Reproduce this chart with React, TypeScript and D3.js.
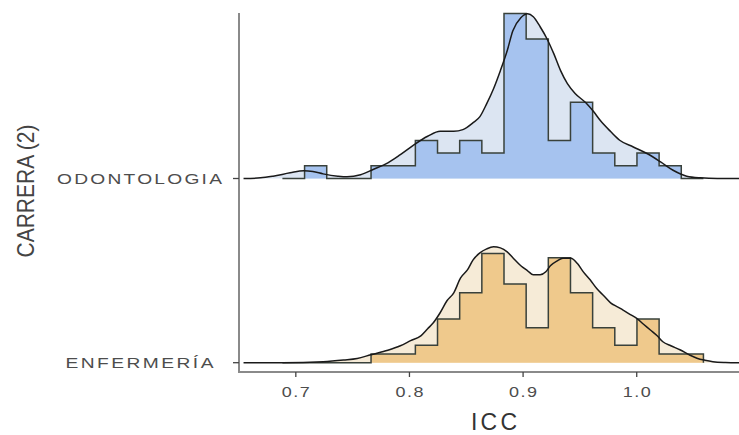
import { useEffect, useRef } from 'react';
import * as d3 from 'd3';

const WIDTH = 739;
const HEIGHT = 435;

const CATEGORIES = ['ENFERMERÍA', 'ODONTOLOGIA'];
const X_TICKS = [0.7, 0.8, 0.9, 1.0];

// shared histogram bins (ICC)
const BIN_EDGES = [
  0.6882, 0.7077, 0.7272, 0.7467, 0.7662, 0.7857, 0.8052, 0.8247, 0.8442, 0.8637,
  0.8832, 0.9027, 0.9222, 0.9417, 0.9612, 0.9807, 1.0002, 1.0197, 1.0392, 1.0587,
];
const ODONT_COUNTS = [0, 1, 0, 0, 1, 1, 3, 2, 3, 2, 13, 11, 3, 6, 2, 1, 2, 1, 0];
const ENF_COUNTS = [0, 0, 0, 0, 2, 2, 4, 10, 16, 25, 18, 8, 24, 16, 8, 4, 10, 2, 2];

// density curves (ICC, density)
const ODONT_KDE_X = [
  0.654, 0.669, 0.680, 0.695, 0.707, 0.715, 0.724, 0.737, 0.745, 0.757, 0.768, 0.781,
  0.792, 0.803, 0.816, 0.827, 0.839, 0.847, 0.856, 0.862, 0.868, 0.874, 0.880, 0.886,
  0.891, 0.898, 0.904, 0.909, 0.915, 0.921, 0.927, 0.933, 0.939, 0.946, 0.955, 0.962,
  0.968, 0.977, 0.985, 0.997, 1.009, 1.021, 1.032, 1.044, 1.056, 1.071, 1.090,
];
const ODONT_KDE_Y = [
  0, 0.05, 0.18, 0.44, 0.6, 0.54, 0.36, 0.18, 0.13, 0.29, 0.7, 1.22,
  1.86, 2.56, 3.28, 3.67, 3.67, 3.8, 4.34, 4.81, 5.82, 6.98, 8.38, 9.93,
  11.48, 12.49, 12.8, 12.57, 11.79, 10.86, 9.7, 8.38, 7.37, 6.59, 5.9, 5.2,
  4.5, 3.65, 2.97, 2.45, 1.94, 1.29, 0.64, 0.18, 0.05, 0, 0,
];
const ENF_KDE_X = [
  0.654, 0.689, 0.724, 0.742, 0.754, 0.766, 0.781, 0.792, 0.801, 0.810, 0.816, 0.821,
  0.827, 0.833, 0.839, 0.845, 0.851, 0.856, 0.862, 0.868, 0.874, 0.880, 0.886, 0.891,
  0.898, 0.904, 0.909, 0.915, 0.920, 0.924, 0.930, 0.935, 0.942, 0.948, 0.953, 0.959,
  0.965, 0.971, 0.977, 0.983, 0.988, 0.994, 1.000, 1.006, 1.012, 1.018, 1.023, 1.030,
  1.038, 1.047, 1.053, 1.060, 1.067, 1.078, 1.090,
];
const ENF_KDE_Y = [
  0, 0, 0.08, 0.21, 0.33, 0.62, 0.97, 1.32, 1.71, 2.09, 2.64, 3.1,
  3.88, 4.81, 5.43, 6.59, 7.21, 7.99, 8.53, 8.84, 9.0, 8.92, 8.61, 8.15,
  7.53, 7.14, 6.83, 6.83, 7.06, 7.53, 7.91, 8.11, 8.11, 7.68, 7.06, 6.44,
  5.74, 5.2, 4.65, 4.34, 4.09, 3.76, 3.44, 2.99, 2.54, 2.09, 1.63, 1.32,
  1.01, 0.58, 0.35, 0.19, 0.08, 0.02, 0,
];

const SERIES = [
  { name: 'ODONTOLOGIA', counts: ODONT_COUNTS, kx: ODONT_KDE_X, ky: ODONT_KDE_Y, hist: '#a6c3ef', light: '#dce5f2' },
  { name: 'ENFERMERÍA', counts: ENF_COUNTS, kx: ENF_KDE_X, ky: ENF_KDE_Y, hist: '#efc98c', light: '#f6ebd7' },
];

const FONT = '"Liberation Sans", Arial, sans-serif';

export default function App() {
  const svgRef = useRef<SVGSVGElement>(null);

  useEffect(() => {
    const svg = d3.select(svgRef.current);
    svg.selectAll('*').remove();

    const left = 239;
    const bottom = 372;
    const top = 13;

    const x = d3.scaleLinear().domain([0.65, 1.09]).range([left, WIDTH]);
    const yBase = d3.scalePoint<string>().domain(CATEGORIES).range([362.7, 178.5]);
    const h = d3.scaleLinear().domain([0, 12.82]).range([0, 165]);
    const binW = BIN_EDGES[1] - BIN_EDGES[0];

    const g = svg.append('g');

    SERIES.forEach((s) => {
      const base = yBase(s.name)!;
      const n = d3.sum(s.counts);
      const dens = s.counts.map((c) => c / (n * binW));

      const kde = s.kx.map((v, i) => [v, s.ky[i]] as [number, number]);
      const area = d3
        .area<[number, number]>()
        .x((d) => x(d[0]))
        .y0(base)
        .y1((d) => base - h(d[1]))
        .curve(d3.curveMonotoneX);
      g.append('path').attr('d', area(kde)!).attr('fill', s.light);

      const steps: [number, number][] = [[BIN_EDGES[0], 0]];
      dens.forEach((d, i) => steps.push([BIN_EDGES[i], d]));
      steps.push([BIN_EDGES[BIN_EDGES.length - 1], 0]);

      const histArea = d3
        .area<[number, number]>()
        .x((d) => x(d[0]))
        .y0(base)
        .y1((d) => base - h(d[1]))
        .curve(d3.curveStepAfter);
      g.append('path').attr('d', histArea(steps)!).attr('fill', s.hist);

      const histLine = d3
        .line<[number, number]>()
        .x((d) => x(d[0]))
        .y((d) => base - h(d[1]))
        .curve(d3.curveStepAfter);
      g.append('path')
        .attr('d', histLine(steps)!)
        .attr('fill', 'none')
        .attr('stroke', '#39413b')
        .attr('stroke-width', 1.5);

      const kLine = d3
        .line<[number, number]>()
        .x((d) => x(d[0]))
        .y((d) => base - h(d[1]))
        .curve(d3.curveMonotoneX);
      g.append('path')
        .attr('d', kLine(kde)!)
        .attr('fill', 'none')
        .attr('stroke', '#1a1a1a')
        .attr('stroke-width', 1.5);
    });

    // axes
    const axisColor = '#8a8a8a';
    svg.append('line').attr('x1', left).attr('x2', left).attr('y1', top).attr('y2', bottom + 1)
      .attr('stroke', axisColor).attr('stroke-width', 2);
    svg.append('line').attr('x1', left - 1).attr('x2', WIDTH).attr('y1', bottom).attr('y2', bottom)
      .attr('stroke', axisColor).attr('stroke-width', 2);

    // wide-looking labels: glyphs stretched horizontally a bit, rest is spacing
    const wideText = (cx: number, cy: number, txt: string, size: number, len: number, sx: number) => {
      svg.append('text')
        .attr('transform', `translate(${cx},${cy}) scale(${sx},1)`)
        .attr('text-anchor', 'middle')
        .attr('font-family', FONT).attr('font-size', size)
        .attr('fill', '#4d4d4d')
        .attr('textLength', len / sx)
        .text(txt);
    };

    X_TICKS.forEach((t) => {
      svg.append('line').attr('x1', x(t)).attr('x2', x(t)).attr('y1', bottom).attr('y2', bottom + 5)
        .attr('stroke', '#444').attr('stroke-width', 1.3);
      wideText(x(t), 397, d3.format('.1f')(t), 15, 28, 1.2);
    });

    CATEGORIES.forEach((c) => {
      const yy = yBase(c)!;
      svg.append('line').attr('x1', left - 6).attr('x2', left).attr('y1', yy).attr('y2', yy)
        .attr('stroke', '#444').attr('stroke-width', 1.3);
      wideText(139.5, yy + 5.5, c, 15, c === 'ODONTOLOGIA' ? 165 : 148, 1.28);
    });

    svg.append('text')
      .attr('x', 494).attr('y', 430)
      .attr('text-anchor', 'middle')
      .attr('font-family', FONT).attr('font-size', 23)
      .attr('fill', '#333')
      .attr('textLength', 46)
      .text('ICC');

    svg.append('text')
      .attr('transform', 'translate(33.5,191) rotate(-90)')
      .attr('text-anchor', 'middle')
      .attr('font-family', FONT).attr('font-size', 24)
      .attr('fill', '#444')
      .attr('textLength', 133)
      .attr('lengthAdjust', 'spacingAndGlyphs')
      .text('CARRERA (2)');
  }, []);

  return (
    <svg
      ref={svgRef}
      width={WIDTH}
      height={HEIGHT}
      style={{ position: 'absolute', left: 0, top: 0, background: '#fff' }}
    />
  );
}
